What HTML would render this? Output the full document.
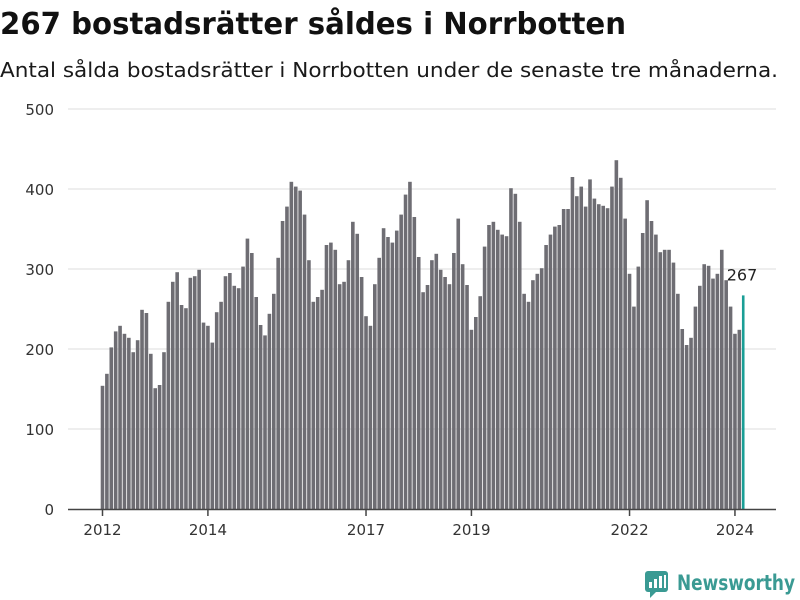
<!DOCTYPE html>
<html><head><meta charset="utf-8"><style>
html,body{margin:0;padding:0;background:#fff;width:800px;height:600px;overflow:hidden}
svg{display:block;font-family:"DejaVu Sans","Liberation Sans",sans-serif}
</style></head><body>
<svg id="chart" width="800" height="600">
<text x="0" y="34" font-size="30" font-weight="bold" fill="#111" textLength="626" lengthAdjust="spacingAndGlyphs">267 bostadsrätter såldes i Norrbotten</text>
<text x="0" y="77" font-size="20" fill="#1a1a1a" textLength="778" lengthAdjust="spacingAndGlyphs">Antal sålda bostadsrätter i Norrbotten under de senaste tre månaderna.</text>
<g id="grid"></g><g id="bars"></g><g id="axis"></g>
<g>
<rect x="645" y="571" width="23" height="21" rx="3" fill="#3a9a93"/>
<path d="M650 592 L650 598 L656 592 Z" fill="#3a9a93"/>
<rect x="649" y="582" width="3" height="6" fill="#fff"/><rect x="654" y="579" width="3" height="9" fill="#fff"/><rect x="659" y="576" width="3" height="12" fill="#fff"/><rect x="664" y="575" width="2" height="13" fill="#fff"/>
<text x="677" y="590" font-size="21" font-weight="bold" fill="#3a9a93" textLength="118" lengthAdjust="spacingAndGlyphs">Newsworthy</text>
</g>
</svg>
<script>
const values=[154,169,202,222,229,219,214,196,211,249,245,194,151,155,196,259,284,296,255,251,289,291,299,233,229,208,246,259,291,295,279,276,303,338,320,265,230,217,
244,269,314,360,378,409,403,398,368,311,259,265,274,330,333,324,281,284,311,359,344,290,241,229,281,314,351,340,333,348,368,393,409,365,
315,271,280,311,319,299,290,281,320,363,306,280,224,240,266,328,355,359,349,343,341,401,394,359,269,259,286,294,301,330,343,353,355,375,375,415,391,403,
378,412,388,381,379,376,403,436,414,363,294,253,303,345,386,360,343,321,324,324,308,269,225,205,214,253,279,306,304,288,294,324,286,253,219,224,267];
const yTicks=[0,100,200,300,400,500];
const xTickLabels=["2012","2014","2017","2019","2022","2024"];
const xTickIndex=[0,24,60,84,120,144];
const NS="http://www.w3.org/2000/svg";
const y=v=>509-v*0.8;
const x=i=>102.5+i*4.392;
const grid=document.getElementById('grid'),bars=document.getElementById('bars'),axis=document.getElementById('axis');
function mk(tag,attrs,parent){const e=document.createElementNS(NS,tag);for(const k in attrs)e.setAttribute(k,attrs[k]);parent.appendChild(e);return e;}
yTicks.forEach(t=>{
 if(t>0){const l=mk('line',{x1:68,x2:776,y1:y(t),y2:y(t),stroke:'#ddd','stroke-width':1},grid);
 
 }
 const tx=mk('text',{x:54,y:y(t)+6,'text-anchor':'end','font-size':15,fill:'#333'},axis);
 tx.textContent=t;
 
 
});
values.forEach((v,i)=>{
 const last=i===values.length-1;
 const r=mk('rect',{x:x(i)-1.8,y:y(v),width:last?2.6:3.6,height:v*0.8,fill:last?'#1a9e96':'#6e6d73'},bars);
 
 
});
const lv=values[values.length-1];
const lab=mk('text',{x:x(values.length-1)-17,y:y(lv)-15,'font-size':16,fill:'#222'},axis);
lab.textContent=lv;


const ax=mk('line',{x1:68,x2:776,y1:509.5,y2:509.5,stroke:'#444','stroke-width':1.5},axis);


xTickLabels.forEach((lbl,k)=>{
 const xi=x(xTickIndex[k]);
 const tk=mk('line',{x1:xi,x2:xi,y1:509,y2:516,stroke:'#444','stroke-width':1.5},axis);
 
 
 const t=mk('text',{x:xi,y:535,'text-anchor':'middle','font-size':15,fill:'#333'},axis);
 t.textContent=lbl;
 
 
});
</script>
</body></html>
